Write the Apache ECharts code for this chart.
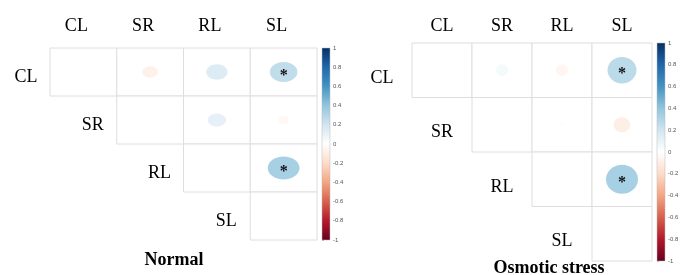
<html>
<head>
<meta charset="utf-8">
<title></title>
<style>
  html, body { margin: 0; padding: 0; background: #fff; }
</style>
</head>
<body>
<div id="main" style="width: 685px;height:275px;"></div>
<script src="https://cdn.jsdelivr.net/npm/echarts@6/dist/echarts.min.js"></script>
<script type="text/javascript">
// variables (rows / columns of both matrices)
var cats = ['CL', 'SR', 'RL', 'SL'];
// [row, col, r] upper triangle, diagonal left empty
var normalCorr = [[0, 1, -0.08], [0, 2, 0.15], [0, 3, 0.25], [1, 2, 0.11], [1, 3, -0.04], [2, 3, 0.33]];
var stressCorr = [[0, 1, 0.05], [0, 2, -0.05], [0, 3, 0.27], [1, 2, -0.01], [1, 3, -0.09], [2, 3, 0.33]];
// significant pairs, marked with *
var normalSig = ['CL-SL', 'RL-SL'];
var stressSig = ['CL-SL', 'RL-SL'];
var barTicks = [-1, 1];
var titles = ['Normal', 'Osmotic stress'];

var rdbu = ['#67001F', '#B2182B', '#D6604D', '#F4A582', '#FDDBC7', '#FFFFFF',
            '#D1E5F0', '#92C5DE', '#4393C3', '#2166AC', '#053061'];
var serif = '"Liberation Serif", "DejaVu Serif", serif';

function buildCells(corr, sig) {
    var out = [];
    for (var i = 0; i < cats.length; i++) {
        for (var j = i; j < cats.length; j++) {
            var r = null;
            corr.forEach(function (c) { if (c[0] === i && c[1] === j) r = c[2]; });
            var s = sig.indexOf(cats[i] + '-' + cats[j]) >= 0 ? 1 : 0;
            out.push([j, i, r, s]);
        }
    }
    return out;
}

function cellRenderer(labelDx, labelDy, scale) {
    return function (params, api) {
        var x = api.value(0), y = api.value(1), r = api.value(2);
        var c = api.coord([x, y]);
        var s = api.size([1, 1]);
        var kids = [{
            type: 'rect',
            shape: { x: c[0] - s[0] / 2, y: c[1] - s[1] / 2, width: s[0], height: s[1] },
            style: { fill: '#fff', stroke: '#dedede', lineWidth: 1 }
        }];
        if (x === y) {
            kids.push({
                type: 'text',
                style: {
                    text: cats[y], x: c[0] - s[0] / 2 - labelDx, y: c[1] + labelDy,
                    align: 'center', verticalAlign: 'middle',
                    fontFamily: serif, fontSize: 18, fill: '#000'
                }
            });
        } else if (r !== null && !isNaN(r)) {
            var k = scale * Math.sqrt(Math.abs(r)) / 2;
            kids.push({
                type: 'ellipse',
                shape: { cx: c[0], cy: c[1], rx: s[0] * k, ry: s[1] * k },
                style: { fill: api.visual('color') }
            });
            if (api.value(3) === 1) {
                kids.push({
                    type: 'text',
                    style: {
                        text: '*', x: c[0], y: c[1] + 4,
                        align: 'center', verticalAlign: 'middle',
                        fontFamily: serif, fontSize: 16, fontWeight: 'bold', fill: '#111'
                    }
                });
            }
        }
        return { type: 'group', children: kids };
    };
}

function barRenderer(params, api) {
    var p1 = api.coord([0, api.value(1)]);
    var p2 = api.coord([1, api.value(0)]);
    var stops = rdbu.slice().reverse().map(function (col, i) {
        return { offset: i / (rdbu.length - 1), color: col };
    });
    return {
        type: 'rect',
        shape: { x: p1[0], y: p1[1], width: p2[0] - p1[0], height: p2[1] - p1[1] },
        style: { fill: new echarts.graphic.LinearGradient(0, 0, 0, 1, stops), stroke: '#bbb', lineWidth: 0.5 }
    };
}

var myChart = echarts.init(document.getElementById('main'));

var catX = function (gi, pad, margin) {
    return {
        type: 'category', gridIndex: gi, data: cats, position: 'top',
        axisLine: { show: false }, axisTick: { show: false }, splitLine: { show: false },
        axisLabel: { fontFamily: serif, fontSize: 18, color: '#000', margin: margin, padding: pad }
    };
};
var catY = function (gi) {
    return {
        type: 'category', gridIndex: gi, data: cats, inverse: true,
        axisLine: { show: false }, axisTick: { show: false }, axisLabel: { show: false },
        splitLine: { show: false }
    };
};
var barX = function (gi) {
    return { type: 'value', gridIndex: gi, min: 0, max: 1, show: false };
};
var barY = function (gi) {
    return {
        type: 'value', gridIndex: gi, min: -1, max: 1, interval: 0.2, position: 'right',
        axisLine: { show: false }, splitLine: { show: false },
        axisTick: { show: true, length: 2, lineStyle: { color: '#888', width: 0.6 } },
        axisLabel: { fontSize: 6, color: '#555', margin: 3, fontFamily: 'Liberation Sans' }
    };
};

myChart.setOption({
    animation: false,
    title: [
        { text: titles[0], left: 169, top: 246, textAlign: 'center',
          textStyle: { fontFamily: serif, fontSize: 18, fontWeight: 'bold', color: '#000' } },
        { text: titles[1], left: 544, top: 254, textAlign: 'center',
          textStyle: { fontFamily: serif, fontSize: 18, fontWeight: 'bold', color: '#000' } }
    ],
    visualMap: {
        show: false, type: 'continuous', min: -1, max: 1, dimension: 2,
        seriesIndex: [0, 1], inRange: { color: rdbu }
    },
    grid: [
        { left: 50, top: 48, width: 267, height: 192 },
        { left: 412, top: 43, width: 240, height: 218 },
        { left: 322, top: 48, width: 8, height: 192 },
        { left: 657, top: 43, width: 8, height: 218 }
    ],
    xAxis: [catX(0, [0, 14, 0, 0], 13), catX(1, [0, 0, 0, 0], 8), barX(2), barX(3)],
    yAxis: [catY(0), catY(1), barY(2), barY(3)],
    series: [
        { type: 'custom', xAxisIndex: 0, yAxisIndex: 0, renderItem: cellRenderer(24, 5, 0.83),
          data: buildCells(normalCorr, normalSig) },
        { type: 'custom', xAxisIndex: 1, yAxisIndex: 1, renderItem: cellRenderer(30, 8, 0.93),
          data: buildCells(stressCorr, stressSig) },
        { type: 'custom', xAxisIndex: 2, yAxisIndex: 2, renderItem: barRenderer, data: [barTicks] },
        { type: 'custom', xAxisIndex: 3, yAxisIndex: 3, renderItem: barRenderer, data: [barTicks] }
    ]
});
</script>
</body>
</html>
